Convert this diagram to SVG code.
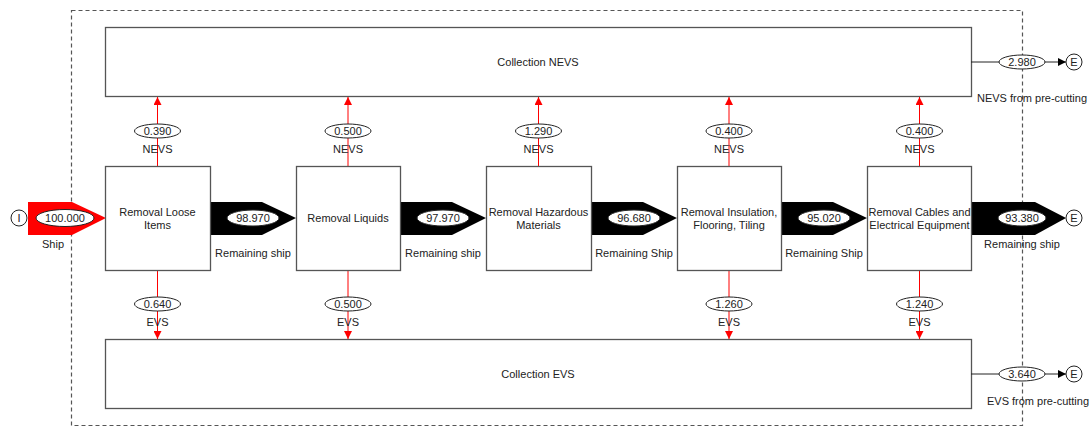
<svg xmlns="http://www.w3.org/2000/svg" width="1091" height="427" viewBox="0 0 1091 427">
<style>
text{font-family:"Liberation Sans",Arial,sans-serif;font-size:11px;fill:#222;text-anchor:middle}
.box{fill:#fff;stroke:#555;stroke-width:1.3}
.frame{fill:none;stroke:#555;stroke-width:1.2;stroke-dasharray:4 3}
.red{stroke:#f00;stroke-width:1;fill:none}
.lbl{fill:#fff;stroke:#222;stroke-width:1}
.term{fill:#fff;stroke:#222;stroke-width:1}
.blk{fill:#000}
.line{stroke:#222;stroke-width:1;fill:none}
</style>
<defs>
<marker id="ar" viewBox="0 0 10 10" refX="10" refY="5" markerWidth="8" markerHeight="8" markerUnits="userSpaceOnUse" orient="auto"><path d="M0,0L10,5L0,10z" fill="#f00"/></marker>
<marker id="ak" viewBox="0 0 10 10" refX="10" refY="5" markerWidth="8" markerHeight="8" markerUnits="userSpaceOnUse" orient="auto"><path d="M0,0L10,5L0,10z" fill="#000"/></marker>
</defs>
<rect class="frame" x="71.5" y="10.5" width="951" height="415"/>
<g id="collectionNEVS"><rect class="box" x="105.5" y="27.5" width="866" height="69"/><text x="538" y="66">Collection NEVS</text></g>
<g id="collectionEVS"><rect class="box" x="105.5" y="339.5" width="866" height="69"/><text x="538" y="378">Collection EVS</text></g>
<g id="connectors">
<path class="red" d="M157.5,166V97" marker-end="url(#ar)"/>
<path class="red" d="M348,166V97" marker-end="url(#ar)"/>
<path class="red" d="M538.5,166V97" marker-end="url(#ar)"/>
<path class="red" d="M729,166V97" marker-end="url(#ar)"/>
<path class="red" d="M919.5,166V97" marker-end="url(#ar)"/>
<path class="red" d="M157.5,270V339" marker-end="url(#ar)"/>
<path class="red" d="M348,270V339" marker-end="url(#ar)"/>
<path class="red" d="M729,270V339" marker-end="url(#ar)"/>
<path class="red" d="M919.5,270V339" marker-end="url(#ar)"/>
<path fill="#f00" d="M28,202H72L106,218L72,235H28z"/>
<path class="blk" d="M210,202H262L296,218L262,235H210z"/>
<path class="blk" d="M400,202H452L486,218L452,235H400z"/>
<path class="blk" d="M591,202H643L677,218L643,235H591z"/>
<path class="blk" d="M781,202H833L867,218L833,235H781z"/>
<path class="blk" d="M971,202H1035L1066,218L1035,235H971z"/>
<path class="line" d="M971,62H1066" marker-end="url(#ak)"/>
<path class="line" d="M971,374H1066" marker-end="url(#ak)"/>
<g id="labels">
<ellipse class="lbl" cx="65" cy="218" rx="29" ry="8.5"/><text x="65" y="222">100.000</text><text x="53" y="248">Ship</text>
<ellipse class="lbl" cx="253" cy="218" rx="26" ry="8"/><text x="253" y="222">98.970</text><text x="253" y="257">Remaining ship</text>
<ellipse class="lbl" cx="443" cy="218" rx="26" ry="8"/><text x="443" y="222">97.970</text><text x="443" y="257">Remaining ship</text>
<ellipse class="lbl" cx="634" cy="218" rx="26" ry="8"/><text x="634" y="222">96.680</text><text x="634" y="257">Remaining Ship</text>
<ellipse class="lbl" cx="824" cy="218" rx="26" ry="8"/><text x="824" y="222">95.020</text><text x="824" y="257">Remaining Ship</text>
<ellipse class="lbl" cx="1022" cy="218" rx="24" ry="8"/><text x="1022" y="222">93.380</text><text x="1022" y="248">Remaining ship</text>
<ellipse class="lbl" cx="1022" cy="62" rx="23" ry="7"/><text x="1022" y="66">2.980</text><text x="1032" y="102">NEVS from pre-cutting</text>
<ellipse class="lbl" cx="1022" cy="374" rx="23" ry="7"/><text x="1022" y="378">3.640</text><text x="1038" y="405">EVS from pre-cutting</text>
<ellipse class="lbl" cx="157.5" cy="131" rx="23" ry="7"/><text x="157.5" y="135">0.390</text><text x="157.5" y="153">NEVS</text>
<ellipse class="lbl" cx="348" cy="131" rx="23" ry="7"/><text x="348" y="135">0.500</text><text x="348" y="153">NEVS</text>
<ellipse class="lbl" cx="538.5" cy="131" rx="23" ry="7"/><text x="538.5" y="135">1.290</text><text x="538.5" y="153">NEVS</text>
<ellipse class="lbl" cx="729" cy="131" rx="23" ry="7"/><text x="729" y="135">0.400</text><text x="729" y="153">NEVS</text>
<ellipse class="lbl" cx="919.5" cy="131" rx="23" ry="7"/><text x="919.5" y="135">0.400</text><text x="919.5" y="153">NEVS</text>
<ellipse class="lbl" cx="157.5" cy="304" rx="23" ry="7"/><text x="157.5" y="308">0.640</text><text x="157.5" y="326">EVS</text>
<ellipse class="lbl" cx="348" cy="304" rx="23" ry="7"/><text x="348" y="308">0.500</text><text x="348" y="326">EVS</text>
<ellipse class="lbl" cx="729" cy="304" rx="23" ry="7"/><text x="729" y="308">1.260</text><text x="729" y="326">EVS</text>
<ellipse class="lbl" cx="919.5" cy="304" rx="23" ry="7"/><text x="919.5" y="308">1.240</text><text x="919.5" y="326">EVS</text>
</g>
</g>
<g id="inI"><circle class="term" cx="19" cy="218" r="8"/><text x="19" y="222">I</text></g>
<g id="outE1"><circle class="term" cx="1074" cy="62" r="8"/><text x="1074" y="66">E</text></g>
<g id="outE2"><circle class="term" cx="1074" cy="218" r="8"/><text x="1074" y="222">E</text></g>
<g id="outE3"><circle class="term" cx="1074" cy="374" r="8"/><text x="1074" y="378">E</text></g>
<g id="p1"><rect class="box" x="105.5" y="166.5" width="105" height="104"/><text x="157.5" y="216">Removal Loose</text><text x="157.5" y="229">Items</text></g>
<g id="p2"><rect class="box" x="296.5" y="166.5" width="104" height="104"/><text x="348" y="222">Removal Liquids</text></g>
<g id="p3"><rect class="box" x="486.5" y="166.5" width="105" height="104"/><text x="538.5" y="216">Removal Hazardous</text><text x="538.5" y="229">Materials</text></g>
<g id="p4"><rect class="box" x="677.5" y="166.5" width="104" height="104"/><text x="729" y="216">Removal Insulation,</text><text x="729" y="229">Flooring, Tiling</text></g>
<g id="p5"><rect class="box" x="867.5" y="166.5" width="104" height="104"/><text x="919.5" y="216">Removal Cables and</text><text x="919.5" y="229">Electrical Equipment</text></g>
</svg>
